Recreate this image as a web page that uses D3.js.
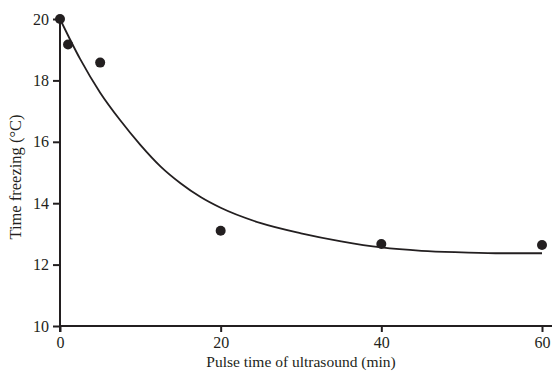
<!DOCTYPE html>
<html>
<head>
<meta charset="utf-8">
<script src="https://cdn.jsdelivr.net/npm/d3@7"></script>
<style>
  body { margin: 0; background: #fff; }
  text { font-family: "Liberation Serif", "Times New Roman", serif; fill: #231f20; }
</style>
</head>
<body>
<div id="chart"></div>
<script>
// measured points
var pulseTime = [0, 1, 5, 20, 40, 60];
var freezeTemp = [20, 19.17, 18.58, 13.1, 12.67, 12.64];

// fitted curve
var fitTime = [0, 2.5, 5, 7.5, 10, 12.5, 15, 17.5, 20, 25, 30, 35, 40, 45, 50, 55, 60];
var fitTemp = [20, 18.7, 17.6, 16.7, 15.9, 15.2, 14.65, 14.2, 13.85, 13.35, 13.02, 12.76, 12.56, 12.45, 12.4, 12.37, 12.37];

var xTicks = [0, 20, 40, 60];
var yTicks = [10, 12, 14, 16, 18, 20];

var width = 552, height = 373;
var margin = { left: 60, right: 10, top: 19, bottom: 47 };

var svg = d3.select("#chart").append("svg")
  .attr("width", width)
  .attr("height", height);

var x = d3.scaleLinear().domain([0, 60]).range([margin.left, 542]);
var y = d3.scaleLinear().domain([10, 20]).range([height - margin.bottom, margin.top]);

var ink = "#231f20";

// axes
var xAxis = svg.append("g")
  .attr("transform", "translate(0," + y(10) + ")")
  .call(d3.axisBottom(x).tickValues(xTicks).tickSize(6).tickPadding(5).tickFormat(d3.format("d")));
xAxis.select(".domain").remove();
xAxis.append("line")
  .attr("x1", x(0)).attr("x2", width)
  .attr("stroke", ink).attr("stroke-width", 2);

var yAxis = svg.append("g")
  .attr("transform", "translate(" + x(0) + ",0)")
  .call(d3.axisLeft(y).tickValues(yTicks).tickSize(7).tickPadding(4).tickFormat(d3.format("d")));
yAxis.select(".domain").remove();
yAxis.append("line")
  .attr("y1", y(20)).attr("y2", y(10) + 6)
  .attr("stroke", ink).attr("stroke-width", 2);

svg.selectAll(".tick line").attr("stroke", ink).attr("stroke-width", 2);
svg.selectAll(".tick text").style("font-size", "16px").attr("fill", ink);

// titles
svg.append("text")
  .attr("x", 301).attr("y", 367)
  .attr("text-anchor", "middle")
  .style("font-size", "15.5px")
  .text("Pulse time of ultrasound (min)");

svg.append("text")
  .attr("transform", "translate(21," + 177 + ") rotate(-90)")
  .attr("text-anchor", "middle")
  .style("font-size", "16.5px")
  .text("Time freezing (°C)");

// curve
var line = d3.line()
  .x(function (d) { return x(d[0]); })
  .y(function (d) { return y(d[1]); })
  .curve(d3.curveMonotoneX);

svg.append("path")
  .datum(d3.zip(fitTime, fitTemp))
  .attr("fill", "none")
  .attr("stroke", ink)
  .attr("stroke-width", 1.8)
  .attr("d", line);

// points
svg.selectAll("circle.pt")
  .data(d3.zip(pulseTime, freezeTemp))
  .enter()
  .append("circle")
  .attr("class", "pt")
  .attr("cx", function (d) { return x(d[0]); })
  .attr("cy", function (d) { return y(d[1]); })
  .attr("r", 5)
  .attr("fill", ink);
</script>
</body>
</html>
